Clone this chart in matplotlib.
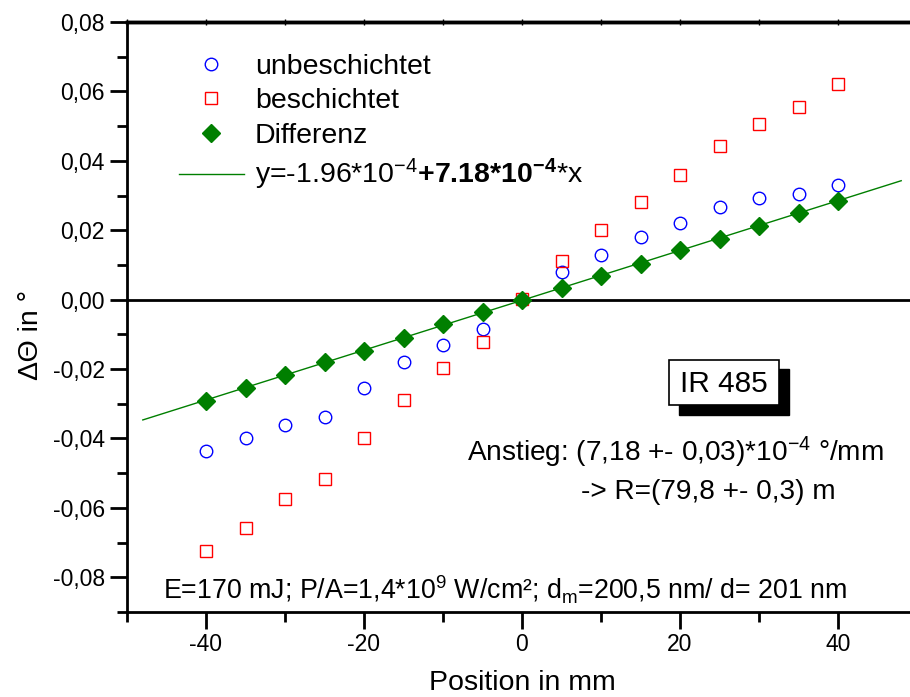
import matplotlib
matplotlib.use("Agg")
import matplotlib.pyplot as plt
from matplotlib.lines import Line2D
from matplotlib.patches import Rectangle
from matplotlib.ticker import MultipleLocator, FuncFormatter
import numpy as np

plt.rcParams['font.family'] = ['Liberation Sans', 'DejaVu Sans']
plt.rcParams['mathtext.fontset'] = 'custom'
plt.rcParams['mathtext.rm'] = 'Liberation Sans'
plt.rcParams['mathtext.it'] = 'Liberation Sans'
plt.rcParams['mathtext.bf'] = 'Liberation Sans:bold'

# data
position = [-40, -35, -30, -25, -20, -15, -10, -5, 0, 5, 10, 15, 20, 25, 30, 35, 40]
unbeschichtet = [-0.0435, -0.0400, -0.0360, -0.0337, -0.0254, -0.0180, -0.0130, -0.0084, 0.0000,
                 0.0080, 0.0130, 0.0180, 0.0220, 0.0268, 0.0294, 0.0305, 0.0331]
beschichtet = [-0.0723, -0.0657, -0.0573, -0.0516, -0.0400, -0.0288, -0.0196, -0.0121, 0.0003,
               0.0112, 0.0202, 0.0282, 0.0360, 0.0444, 0.0507, 0.0556, 0.0620]
differenz = [-0.0291, -0.0256, -0.0216, -0.0179, -0.0147, -0.0110, -0.0069, -0.0035, 0.0000,
             0.0035, 0.0069, 0.0104, 0.0144, 0.0176, 0.0213, 0.0251, 0.0285]
fit_a = -1.96e-4
fit_b = 7.18e-4
fit_x = [-48, 48]

W, H = 910, 697
fig = plt.figure(figsize=(W / 100, H / 100), dpi=100)
ax = fig.add_axes([127 / W, 1 - 612 / H, 790 / W, 590 / H])

fs = 20.5
tfs = 16.5
blue = '#0000ff'
red = '#ff0000'
green = '#007f00'

fx = np.array(fit_x)
ax.plot(fx, fit_a + fit_b * fx, color=green, lw=1.0, zorder=2)
ax.axhline(0, color='black', lw=2, zorder=1)
ax.plot(position, unbeschichtet, 'o', mfc='none', mec=blue, ms=9, mew=1.0, zorder=3)
ax.plot(position, beschichtet, 's', mfc='none', mec=red, ms=8, mew=1.0, zorder=3)
ax.plot(position, differenz, 'D', color=green, ms=9, zorder=4)

ax.set_xlim(-50, 50)
ax.set_ylim(-0.09, 0.08)
ax.xaxis.set_major_locator(MultipleLocator(20))
ax.xaxis.set_minor_locator(MultipleLocator(10))
ax.yaxis.set_major_locator(MultipleLocator(0.02))
ax.yaxis.set_minor_locator(MultipleLocator(0.01))
ax.yaxis.set_major_formatter(FuncFormatter(lambda v, p: ('%.2f' % v).replace('.', ',').replace('-0,00', '0,00')))
ax.xaxis.set_major_formatter(FuncFormatter(lambda v, p: '%d' % v))

ax.tick_params(which='major', direction='out', length=12, width=2, labelsize=tfs)
ax.tick_params(axis='y', which='major', pad=4)
ax.tick_params(axis='x', which='major', pad=3)
ax.tick_params(which='minor', direction='out', length=7, width=2)
for s in ['left', 'bottom']:
    ax.spines[s].set_linewidth(2)
ax.spines['top'].set_linewidth(2.5)
ax.spines['right'].set_visible(False)

top = ax.secondary_xaxis('top')
top.xaxis.set_major_locator(MultipleLocator(10))
top.tick_params(direction='inout', length=4, width=1, labeltop=False)
top.spines['top'].set_linewidth(2.5)

ax.set_xlabel('Position in mm', fontsize=fs)
ax.xaxis.set_label_coords(0.5, -0.099)
ax.set_ylabel('ΔΘ in °', fontsize=fs)
ax.yaxis.set_label_coords(-0.105, 0.47)

handles = [
    Line2D([], [], ls='none', marker='o', mfc='none', mec=blue, ms=9),
    Line2D([], [], ls='none', marker='s', mfc='none', mec=red, ms=8),
    Line2D([], [], ls='none', marker='D', color=green, ms=9),
    Line2D([], [], color=green, lw=1.0),
]
labels = ['unbeschichtet', 'beschichtet', 'Differenz',
          r'y=-1.96*10$^{-4}$$\mathbf{+7.18{*}10^{-4}}$*x']
ax.legend(handles, labels, loc='upper left', bbox_to_anchor=(0.033, 0.99), frameon=False,
          fontsize=fs, handlelength=2.3, handletextpad=0.37, labelspacing=0.3)

# IR 485 label with drop shadow
fig.patches.append(Rectangle((679 / W, 1 - 415 / H), 110 / W, 46 / H, transform=fig.transFigure,
                             fc='black', ec='black', zorder=5))
fig.patches.append(Rectangle((669 / W, 1 - 405 / H), 110 / W, 45 / H, transform=fig.transFigure,
                             fc='white', ec='black', lw=1.2, zorder=6))
fig.text(724 / W, 1 - 384 / H, 'IR 485', fontsize=fs + 1, ha='center', va='center', zorder=7)

ax.text(0.958, 0.27, r'Anstieg: (7,18 +- 0,03)*10$^{-4}$ °/mm', transform=ax.transAxes,
        fontsize=fs - 0.3, ha='right', va='center')
ax.text(0.897, 0.204, '-> R=(79,8 +- 0,3) m', transform=ax.transAxes,
        fontsize=fs - 0.3, ha='right', va='center')
ax.text(0.046, 0.038, r'E=170 mJ; P/A=1,4*10$^{9}$ W/cm²; d$_{\mathrm{m}}$=200,5 nm/ d= 201 nm',
        transform=ax.transAxes, fontsize=19.3, ha='left', va='center')

fig.savefig('out.png', dpi=100)
